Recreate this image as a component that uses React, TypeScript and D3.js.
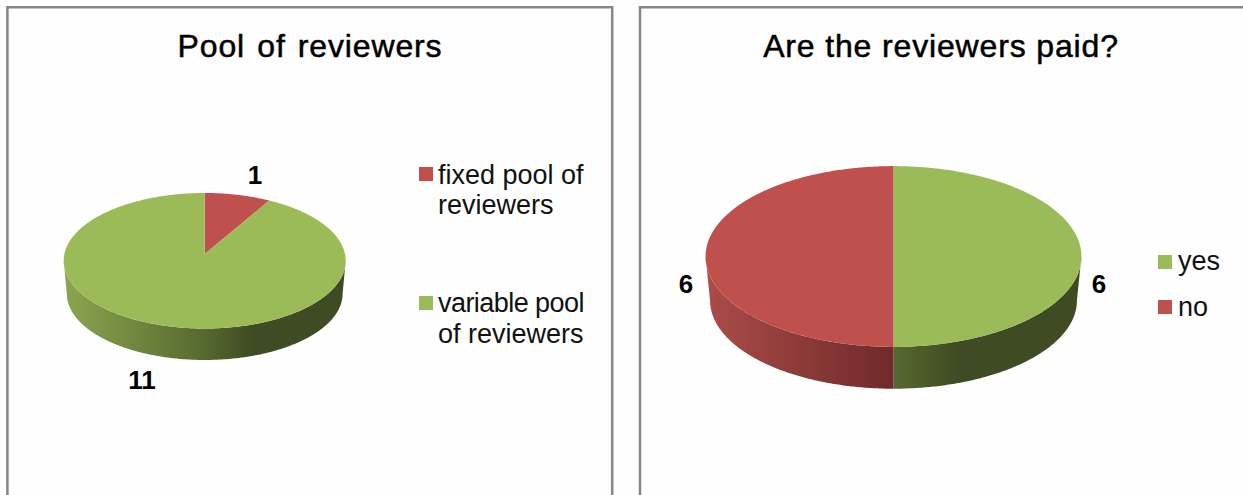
import React from "react";
import * as d3 from "d3";

// Survey answers behind the two 3D pies
const poolLabels = ["fixed pool of reviewers", "variable pool of reviewers"];
const poolValues = [1, 11];
const paidLabels = ["yes", "no"];
const paidValues = [6, 6];

const RED = { top: "#c0504d", light: "#ab4c49", mid: "#6f2a29", dark: "#5a2220" };
const GREEN = { top: "#9bbb59", light: "#8ba650", mid: "#56692f", dark: "#3f4b22" };
const FONT = "'Liberation Sans', Arial, sans-serif";
const BORDER = "#868686";

type Scene = {
  id: string;
  cx: number;
  apexY: number;
  a: number;
  b: number;
  baseScale: number;
  baseApexY: number;
};

const PERSPECTIVE = 0.0996;

// Perspective projection of a point on the disc; theta runs clockwise from the back of the pie
function project(s: Scene, theta: number, base: boolean): [number, number] {
  const u = Math.sin(theta);
  const v = -Math.cos(theta);
  const w = 1 - PERSPECTIVE * v;
  const k = base ? s.baseScale : 1;
  const y0 = base ? s.baseApexY : s.apexY;
  return [s.cx + (k * s.a * u) / w, y0 + (k * s.b * v) / w];
}

const line = d3.line();

function sample(from: number, to: number): number[] {
  const n = Math.max(2, Math.ceil(Math.abs(to - from) / 0.01));
  return d3.range(n + 1).map((i) => from + ((to - from) * i) / n);
}

function topPath(s: Scene, a0: number, a1: number): string {
  const pts = sample(a0, a1).map((t) => project(s, t, false));
  return line([[s.cx, s.apexY], ...pts]) + "Z";
}

function sidePath(s: Scene, a0: number, a1: number): string | null {
  const silhouette = Math.acos(-PERSPECTIVE);
  const from = Math.max(a0, silhouette);
  const to = Math.min(a1, 2 * Math.PI - silhouette);
  if (to <= from) return null;
  const upper = sample(from, to).map((t) => project(s, t, false));
  const lower = sample(to, from).map((t) => project(s, t, true));
  return line([...upper, ...lower]) + "Z";
}

function Pie3D({ scene, labels, values, startLabelColors }: {
  scene: Scene;
  labels: string[];
  values: number[];
  startLabelColors: string[];
}) {
  const colour = d3.scaleOrdinal<string, typeof RED>()
    .domain(labels)
    .range(startLabelColors.map((c) => (c === "red" ? RED : GREEN)));
  const arcs = d3.pie<number>().sort(null)(values);
  const x0 = scene.cx - scene.a * 1.005;
  const x1 = scene.cx + scene.a * 1.005;
  return (
    <g>
      <defs>
        {[RED, GREEN].map((c) => (
          <linearGradient
            key={c.top}
            id={`${scene.id}-${c.top.slice(1)}`}
            gradientUnits="userSpaceOnUse"
            x1={x0}
            x2={x1}
            y1={0}
            y2={0}
          >
            <stop offset="0" stopColor={c.light} />
            <stop offset="0.5" stopColor={c.mid} />
            <stop offset="0.67" stopColor={c.dark} />
            <stop offset="1" stopColor={c.dark} />
          </linearGradient>
        ))}
      </defs>
      {arcs.map((d, i) => {
        const c = colour(labels[i]);
        const side = sidePath(scene, d.startAngle, d.endAngle);
        return side ? (
          <path key={i} d={side} fill={`url(#${scene.id}-${c.top.slice(1)})`} />
        ) : null;
      })}
      {arcs.map((d, i) => (
        <path key={i} d={topPath(scene, d.startAngle, d.endAngle)} fill={colour(labels[i]).top} />
      ))}
    </g>
  );
}

const poolScene: Scene = { id: "pool", cx: 204.7, apexY: 254, a: 140.3, b: 67.1, baseScale: 0.978, baseApexY: 287.1 };
const paidScene: Scene = { id: "paid", cx: 893.5, apexY: 247.5, a: 187, b: 89.5, baseScale: 0.976, baseApexY: 291.7 };

const legendText = { fontFamily: FONT, fontSize: 27, fill: "#111" };
const valueText = { fontFamily: FONT, fontSize: 26, fontWeight: 700, fill: "#000", textAnchor: "middle" as const };
const titleText = { fontFamily: FONT, fontSize: 32, fill: "#000", textAnchor: "middle" as const, stroke: "#000", strokeWidth: 0.5 };

export default function App() {
  return (
    <svg
      width={1243}
      height={495}
      viewBox="0 0 1243 495"
      style={{ position: "absolute", left: 0, top: 0, display: "block", background: "#fefefe" }}
    >
      {/* Chart frames run past the bottom and right edges of the page */}
      <path d="M7.4 500V7.3H612.2V500" fill="none" stroke={BORDER} strokeWidth={2.5} />
      <path d="M640 500V7.3H1250" fill="none" stroke={BORDER} strokeWidth={2.5} />

      <text x={310} y={57} letterSpacing={0.85} wordSpacing={2.5} {...titleText}>Pool of reviewers</text>
      <text x={941} y={57} letterSpacing={0.85} {...titleText}>Are the reviewers paid?</text>

      <Pie3D scene={poolScene} labels={poolLabels} values={poolValues} startLabelColors={["red", "green"]} />
      <Pie3D scene={paidScene} labels={paidLabels} values={paidValues} startLabelColors={["green", "red"]} />

      <text x={255} y={184} {...valueText}>{poolValues[0]}</text>
      <text x={142} y={389} {...valueText}>{poolValues[1]}</text>
      <text x={1099} y={293} {...valueText}>{paidValues[0]}</text>
      <text x={686} y={293} {...valueText}>{paidValues[1]}</text>

      <rect x={419} y={167} width={14} height={14} fill={RED.top} />
      <text x={438} y={184} {...legendText}>fixed pool of</text>
      <text x={438} y={214} {...legendText}>reviewers</text>
      <rect x={419} y={296} width={14} height={14} fill={GREEN.top} />
      <text x={438} y={312} letterSpacing={-0.55} {...legendText}>variable pool</text>
      <text x={438} y={343} {...legendText}>of reviewers</text>

      <rect x={1158} y={255} width={14} height={14} fill={GREEN.top} />
      <text x={1178} y={270} {...legendText}>{paidLabels[0]}</text>
      <rect x={1158} y={300} width={14} height={14} fill={RED.top} />
      <text x={1178} y={316} {...legendText}>{paidLabels[1]}</text>
    </svg>
  );
}
